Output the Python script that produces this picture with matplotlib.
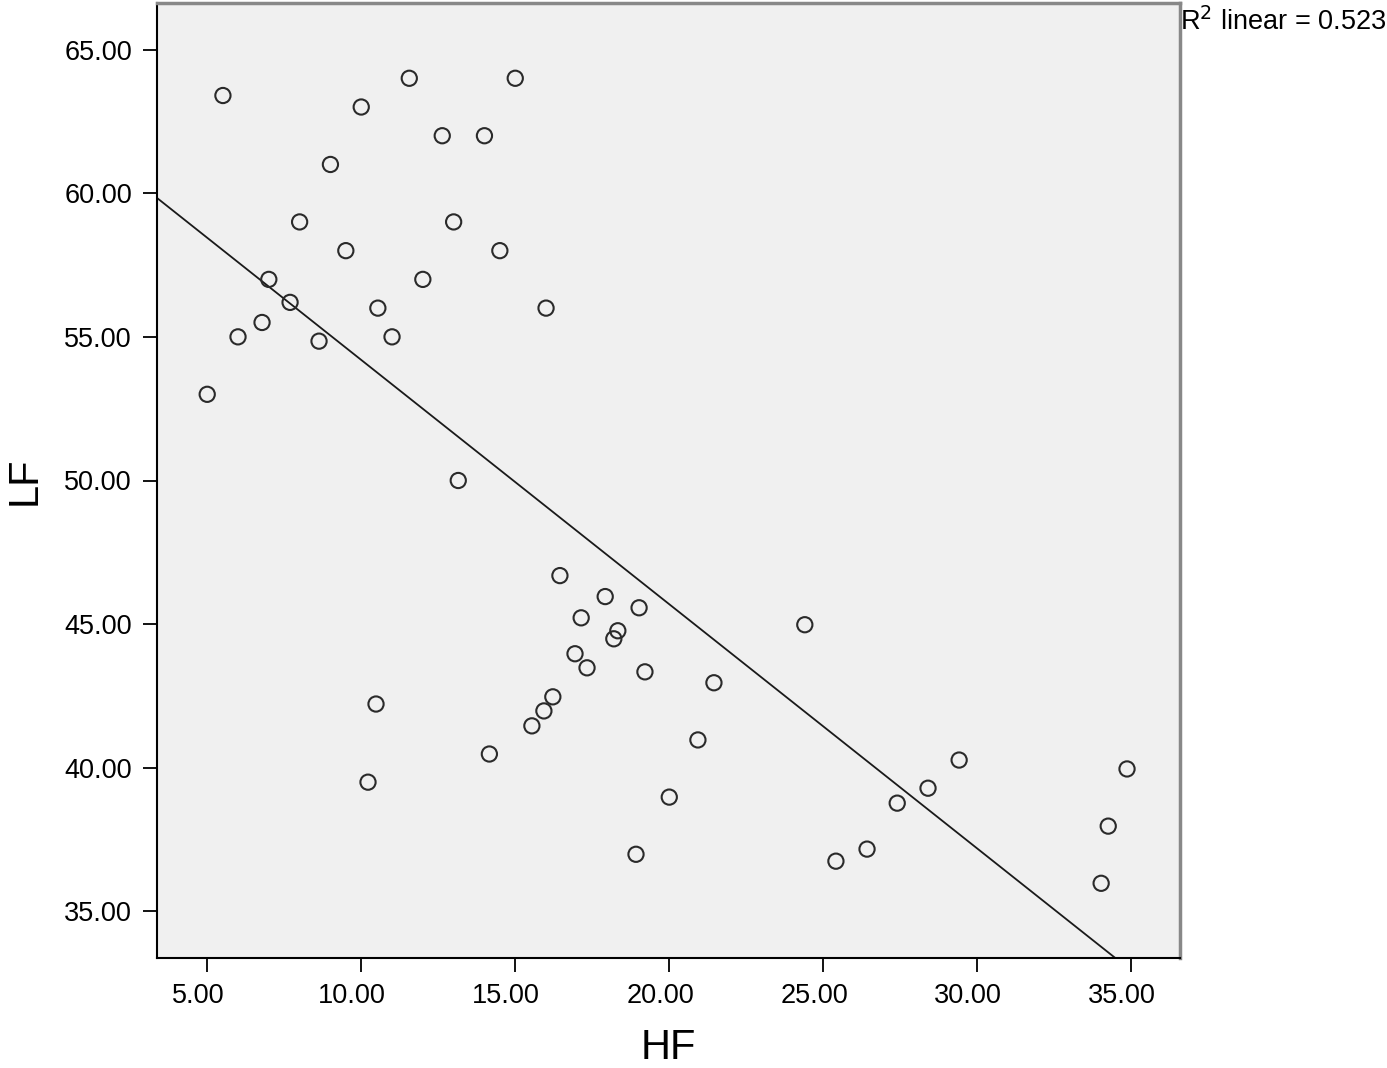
import numpy as np
import matplotlib
matplotlib.use("Agg")
import matplotlib.pyplot as plt
from matplotlib.transforms import ScaledTranslation

plt.rcParams['font.family'] = ['Liberation Sans', 'DejaVu Sans']

HF = [5.0, 5.51, 6.0, 6.78, 7.0, 7.69, 8.0, 8.63, 9.0, 9.5,
      10.0, 10.54, 11.0, 11.56, 12.0, 12.63, 13.0, 13.15, 14.0, 14.5,
      15.0, 16.0, 10.48, 10.22, 14.16, 15.54, 15.93, 16.22, 16.45, 16.94,
      17.14, 17.33, 17.92, 18.2, 18.33, 19.02, 19.21, 18.92, 20.0, 20.93,
      21.45, 24.4, 25.41, 26.42, 27.4, 28.4, 29.41, 34.02, 34.25, 34.86]
LF = [53.0, 63.4, 55.0, 55.5, 57.0, 56.2, 59.0, 54.85, 61.0, 58.0,
      63.0, 56.0, 55.0, 64.0, 57.0, 62.0, 59.0, 50.0, 62.0, 58.0,
      64.0, 56.0, 42.22, 39.5, 40.48, 41.46, 41.98, 42.47, 46.69, 43.97,
      45.22, 43.48, 45.96, 44.49, 44.77, 45.57, 43.34, 36.99, 38.98, 40.97,
      42.96, 44.98, 36.75, 37.17, 38.77, 39.29, 40.27, 35.98, 37.97, 39.96]
xticks = [5, 10, 15, 20, 25, 30, 35]
yticks = [35, 40, 45, 50, 55, 60, 65]
r2_text = "R$^2$ linear = 0.523"

x = np.array(HF)
y = np.array(LF)

fig = plt.figure(figsize=(13.87, 10.68), dpi=100)
ax = fig.add_axes([157/1387, 1-958/1068, (1180-157)/1387, (958-3)/1068])
ax.set_facecolor('#f0f0f0')
ax.set_xlim(3.37, 36.58)
ax.set_ylim(33.38, 66.62)

slope, intercept = np.polyfit(x, y, 1)
xl = np.array(ax.get_xlim())
ax.plot(xl, intercept + slope * xl, color='#1a1a1a', lw=1.3, zorder=2)

ax.scatter(x, y, s=120, facecolors='none', edgecolors='#2a2a2a', linewidths=1.5, zorder=3)

ax.set_xticks(xticks)
ax.set_yticks(yticks)
ax.set_xticklabels([f"{v:.2f}" for v in xticks], fontsize=19.5)
ax.set_yticklabels([f"{v:.2f}" for v in yticks], fontsize=19.5)
ax.tick_params(direction='out', length=10, width=1.3, color='black', pad=8)
off = ScaledTranslation(-9/100, 0, fig.dpi_scale_trans)
for lab in ax.get_xticklabels():
    lab.set_transform(lab.get_transform() + off)

for s in ['left', 'bottom']:
    ax.spines[s].set_color('black')
    ax.spines[s].set_linewidth(1.5)
for s in ['top', 'right']:
    ax.spines[s].set_color('#888888')
    ax.spines[s].set_linewidth(2.5)

ax.set_xlabel('HF', fontsize=30, labelpad=14)
ax.set_ylabel('LF', fontsize=30, labelpad=14)

fig.text(1180/1387, 1-22/1068, r2_text, fontsize=19.5, ha='left', va='center')

fig.savefig('out.png', dpi=100)
